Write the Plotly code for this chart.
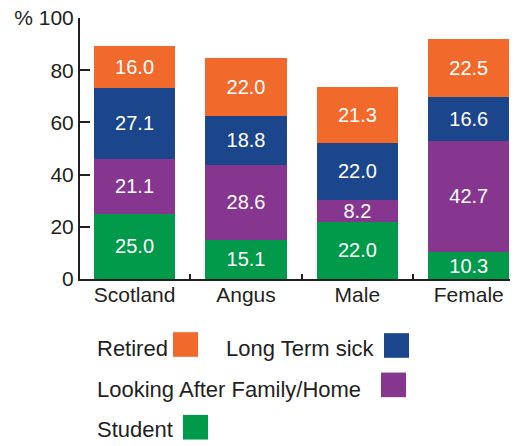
import plotly.graph_objects as go

categories = ["Scotland", "Angus", "Male", "Female"]
student = [25.0, 15.1, 22.0, 10.3]
family = [21.1, 28.6, 8.2, 42.7]
sick = [27.1, 18.8, 22.0, 16.6]
retired = [16.0, 22.0, 21.3, 22.5]

series_names = ["Student", "Looking After Family/Home", "Long Term sick", "Retired"]
series_values = [student, family, sick, retired]
colors = ["#009a4a", "#86368f", "#1b468c", "#f1692b"]

y_tickvals = [0, 20, 40, 60, 80, 100]
y_ticktext = ["0", "20", "40", "60", "80", "% 100"]

FONT = "Liberation Sans, Arial, Helvetica, sans-serif"
TXT = "#231f20"

W, H = 516, 446
L, R, T, B = 80, 6, 14, 167
PW, PH = W - L - R, H - T - B

def px(x):
    return (x - L) / PW

def py(y):
    return (H - B - y) / PH

fig = go.Figure()
for name, vals, col in zip(series_names, series_values, colors):
    fig.add_trace(go.Bar(
        x=categories, y=vals, name=name, marker=dict(color=col, line=dict(width=0)),
        texttemplate="%{y:.1f}", textposition="inside", insidetextanchor="middle",
        textfont=dict(color="white", size=20, family=FONT), showlegend=False,
        hoverinfo="skip",
    ))

# legend drawn manually (text first, swatch after)
legend_items = [
    ("Retired", 95, 350, 173, 333, colors[3]),
    ("Long Term sick", 224, 350, 384, 334, colors[2]),
    ("Looking After Family/Home", 95, 391, 381, 374, colors[1]),
    ("Student", 95, 432, 183, 417, colors[0]),
]
annotations = []
shapes = []
for text, tx, ty, sx, sy, col in legend_items:
    annotations.append(dict(
        text=text, x=px(tx), y=py(ty), xref="paper", yref="paper",
        xanchor="left", yanchor="middle", showarrow=False,
        font=dict(size=22, family=FONT, color=TXT),
    ))
    shapes.append(dict(
        type="rect", xref="paper", yref="paper",
        x0=px(sx), x1=px(sx + 25), y0=py(sy + 25), y1=py(sy),
        fillcolor=col, line=dict(width=0),
    ))

fig.update_layout(
    barmode="stack", bargap=0.27,
    width=W, height=H,
    margin=dict(l=L, r=R, t=T, b=B),
    paper_bgcolor="white", plot_bgcolor="white",
    font=dict(family=FONT, color=TXT, size=20),
    uniformtext=dict(minsize=20, mode="show"),
    annotations=annotations, shapes=shapes,
    xaxis=dict(
        range=[-0.49, 3.37], showline=True, linecolor=TXT, linewidth=2,
        ticks="inside", tickson="boundaries", ticklen=5, tickwidth=2, tickcolor=TXT,
        showgrid=False, zeroline=False, tickfont=dict(size=21, color=TXT),
        ticklabelstandoff=-4,
    ),
    yaxis=dict(
        range=[0, 100], showline=True, linecolor=TXT, linewidth=2,
        ticks="inside", ticklen=10, tickwidth=2, tickcolor=TXT,
        tickvals=y_tickvals, ticktext=y_ticktext,
        showgrid=False, zeroline=False, tickfont=dict(size=21, color=TXT),
    ),
)

fig.write_html(
    "out.html",
    config={"displayModeBar": False},
    post_script="document.body.style.margin='0';document.body.style.overflow='hidden';",
)
